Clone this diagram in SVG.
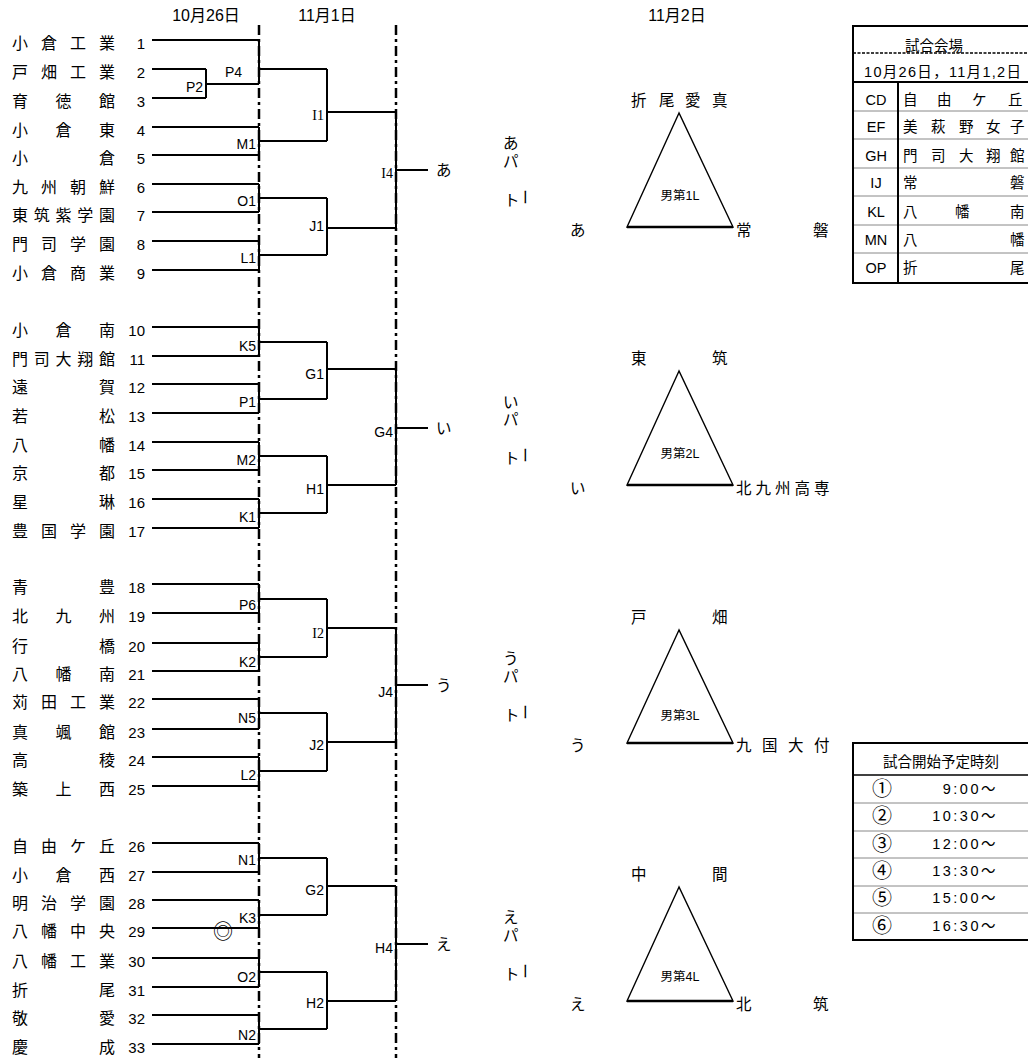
<svg xmlns="http://www.w3.org/2000/svg" width="1028" height="1058" viewBox="0 0 1028 1058">
<style>
text{font-family:"Liberation Sans","Noto Sans CJK JP",sans-serif;fill:#000}
.nm{font-size:16px}
.no{font-size:15px;text-anchor:end}
.lb{font-size:14px;text-anchor:end}
.lbs{font-size:14px;text-anchor:end;font-family:"Liberation Serif","Noto Sans CJK JP",serif}
.dt{font-size:16px;text-anchor:middle}
.kn{font-size:15.5px}
.tri{fill:none;stroke:#000;stroke-width:1.4}
.base{stroke:#000;stroke-width:2.4}
.in{font-size:12.5px;text-anchor:middle}
.br{fill:none;stroke:#000;stroke-width:2}
.dd{stroke:#000;stroke-width:2.5;stroke-dasharray:10 4 3 4}
.tb{font-size:14.5px}
.cn{font-size:20px;font-family:"Noto Sans CJK JP",sans-serif}
.gl{stroke:#888;stroke-width:1}
</style>

<g id="dates">
<text class="dt" x="206" y="21">10月26日</text>
<text class="dt" x="327" y="21">11月1日</text>
<text class="dt" x="677" y="21">11月2日</text>
</g>

<g id="teams">
<g id="team-1"><text class="nm" x="12 41 70 99" y="49">小倉工業</text><text class="no" x="145" y="49">1</text></g>
<g id="team-2"><text class="nm" x="12 41 70 99" y="78">戸畑工業</text><text class="no" x="145" y="78">2</text></g>
<g id="team-3"><text class="nm" x="12 55.5 99" y="107">育徳館</text><text class="no" x="145" y="107">3</text></g>
<g id="team-4"><text class="nm" x="12 55.5 99" y="136">小倉東</text><text class="no" x="145" y="136">4</text></g>
<g id="team-5"><text class="nm" x="12 99" y="164">小倉</text><text class="no" x="145" y="164">5</text></g>
<g id="team-6"><text class="nm" x="12 41 70 99" y="193">九州朝鮮</text><text class="no" x="145" y="193">6</text></g>
<g id="team-7"><text class="nm" x="12 33.75 55.5 77.25 99" y="221">東筑紫学園</text><text class="no" x="145" y="221">7</text></g>
<g id="team-8"><text class="nm" x="12 41 70 99" y="250">門司学園</text><text class="no" x="145" y="250">8</text></g>
<g id="team-9"><text class="nm" x="12 41 70 99" y="279">小倉商業</text><text class="no" x="145" y="279">9</text></g>
<g id="team-10"><text class="nm" x="12 55.5 99" y="336">小倉南</text><text class="no" x="145" y="336">10</text></g>
<g id="team-11"><text class="nm" x="12 33.75 55.5 77.25 99" y="365">門司大翔館</text><text class="no" x="145" y="365">11</text></g>
<g id="team-12"><text class="nm" x="12 99" y="393">遠賀</text><text class="no" x="145" y="393">12</text></g>
<g id="team-13"><text class="nm" x="12 99" y="422">若松</text><text class="no" x="145" y="422">13</text></g>
<g id="team-14"><text class="nm" x="12 99" y="451">八幡</text><text class="no" x="145" y="451">14</text></g>
<g id="team-15"><text class="nm" x="12 99" y="479">京都</text><text class="no" x="145" y="479">15</text></g>
<g id="team-16"><text class="nm" x="12 99" y="508">星琳</text><text class="no" x="145" y="508">16</text></g>
<g id="team-17"><text class="nm" x="12 41 70 99" y="537">豊国学園</text><text class="no" x="145" y="537">17</text></g>
<g id="team-18"><text class="nm" x="12 99" y="593">青豊</text><text class="no" x="145" y="593">18</text></g>
<g id="team-19"><text class="nm" x="12 55.5 99" y="622">北九州</text><text class="no" x="145" y="622">19</text></g>
<g id="team-20"><text class="nm" x="12 99" y="652">行橋</text><text class="no" x="145" y="652">20</text></g>
<g id="team-21"><text class="nm" x="12 55.5 99" y="680">八幡南</text><text class="no" x="145" y="680">21</text></g>
<g id="team-22"><text class="nm" x="12 41 70 99" y="708">苅田工業</text><text class="no" x="145" y="708">22</text></g>
<g id="team-23"><text class="nm" x="12 55.5 99" y="738">真颯館</text><text class="no" x="145" y="738">23</text></g>
<g id="team-24"><text class="nm" x="12 99" y="766">高稜</text><text class="no" x="145" y="766">24</text></g>
<g id="team-25"><text class="nm" x="12 55.5 99" y="795">築上西</text><text class="no" x="145" y="795">25</text></g>
<g id="team-26"><text class="nm" x="12 41 70 99" y="852">自由ケ丘</text><text class="no" x="145" y="852">26</text></g>
<g id="team-27"><text class="nm" x="12 55.5 99" y="881">小倉西</text><text class="no" x="145" y="881">27</text></g>
<g id="team-28"><text class="nm" x="12 41 70 99" y="909">明治学園</text><text class="no" x="145" y="909">28</text></g>
<g id="team-29"><text class="nm" x="12 41 70 99" y="937">八幡中央</text><text class="no" x="145" y="937">29</text></g>
<g id="team-30"><text class="nm" x="12 41 70 99" y="967">八幡工業</text><text class="no" x="145" y="967">30</text></g>
<g id="team-31"><text class="nm" x="12 99" y="996">折尾</text><text class="no" x="145" y="996">31</text></g>
<g id="team-32"><text class="nm" x="12 99" y="1024">敬愛</text><text class="no" x="145" y="1024">32</text></g>
<g id="team-33"><text class="nm" x="12 99" y="1053">慶成</text><text class="no" x="145" y="1053">33</text></g>
</g>

<g id="connectors">
<line class="dd" x1="259" y1="25" x2="259" y2="1058"/>
<line class="dd" x1="396" y1="25" x2="396" y2="1058"/>
<path class="br" d="M152 40H259 M152 69H206 M152 98H206 M206 69V98 M206 84H259 M259 40V84 M259 69H327
M152 127H259 M152 155H259 M259 127V155 M259 141H327 M327 69V141 M327 112H396
M152 184H259 M152 212H259 M259 184V212 M259 198H327
M152 241H259 M152 270H259 M259 241V270 M259 255H327 M327 198V255 M327 228H396
M396 112V228 M396 170H428"/>
<path class="br" d="M152 327H259 M152 356H259 M259 327V356 M259 342H327
M152 384H259 M152 413H259 M259 384V413 M259 399H327 M327 342V399 M327 369H396
M152 442H259 M152 470H259 M259 442V470 M259 456H327
M152 499H259 M152 528H259 M259 499V528 M259 513H327 M327 456V513 M327 485H396
M396 369V485 M396 428H428"/>
<path class="br" d="M152 584H259 M152 613H259 M259 584V613 M259 599H327
M152 643H259 M152 671H259 M259 643V671 M259 657H327 M327 599V657 M327 628H396
M152 699H259 M152 729H259 M259 699V729 M259 713H327
M152 757H259 M152 786H259 M259 757V786 M259 771H327 M327 713V771 M327 742H396
M396 628V742 M396 685H428"/>
<path class="br" d="M152 843H259 M152 872H259 M259 843V872 M259 858H327
M152 900H259 M152 928H259 M259 900V928 M259 915H327 M327 858V915 M327 886H396
M152 958H259 M152 987H259 M259 958V987 M259 972H327
M152 1015H259 M152 1044H259 M259 1015V1044 M259 1029H327 M327 972V1029 M327 1001H396
M396 886V1001 M396 944H428"/>
</g>

<g id="match-labels">
<text class="lb" x="203" y="92">P2</text>
<text class="lb" x="242" y="77">P4</text>
<text class="lb" x="256" y="149">M1</text>
<text class="lb" x="256" y="206">O1</text>
<text class="lb" x="256" y="263">L1</text>
<text class="lbs" x="324" y="120">I1</text>
<text class="lb" x="324" y="231">J1</text>
<text class="lbs" x="393" y="178">I4</text>
<text class="lb" x="256" y="351">K5</text>
<text class="lb" x="256" y="407">P1</text>
<text class="lb" x="256" y="465">M2</text>
<text class="lb" x="256" y="522">K1</text>
<text class="lb" x="324" y="379">G1</text>
<text class="lb" x="324" y="494">H1</text>
<text class="lb" x="393" y="437">G4</text>
<text class="lb" x="256" y="610">P6</text>
<text class="lb" x="256" y="667">K2</text>
<text class="lb" x="256" y="723">N5</text>
<text class="lb" x="256" y="780">L2</text>
<text class="lbs" x="324" y="638">I2</text>
<text class="lb" x="324" y="750">J2</text>
<text class="lb" x="393" y="697">J4</text>
<text class="lb" x="256" y="865">N1</text>
<text class="lb" x="256" y="923">K3</text>
<text class="lb" x="256" y="982">O2</text>
<text class="lb" x="256" y="1040">N2</text>
<text class="lb" x="324" y="895">G2</text>
<text class="lb" x="324" y="1008">H2</text>
<text class="lb" x="393" y="953">H4</text>
<text class="cn" x="223" y="939" text-anchor="middle">◎</text>
<text class="kn" x="436" y="176">あ</text>
<text class="kn" x="436" y="434">い</text>
<text class="kn" x="436" y="691">う</text>
<text class="kn" x="436" y="950">え</text>
</g>

<g id="pool-a">
<text class="kn" x="503" y="149">あ</text>
<text class="kn" x="503" y="167">パ</text>
<text class="kn" x="504" y="206">ト</text>
<text class="kn" text-anchor="middle" transform="translate(524 197) rotate(90)" y="5">ー</text>
<text class="kn" x="631 659 685 712" y="106">折尾愛真</text>
<polygon class="tri" points="679,113 627,227 733,227"/>
<line class="base" x1="627" y1="227" x2="733" y2="227"/>
<text class="in" x="680" y="200">男第1L</text>
<text class="kn" x="570" y="236">あ</text>
<text class="kn" x="736 813" y="236">常磐</text>
</g>

<g id="pool-i">
<text class="kn" x="503" y="408">い</text>
<text class="kn" x="503" y="425">パ</text>
<text class="kn" x="504" y="464">ト</text>
<text class="kn" text-anchor="middle" transform="translate(524 455) rotate(90)" y="5">ー</text>
<text class="kn" x="631 712" y="364">東筑</text>
<polygon class="tri" points="679,371 627,485 733,485"/>
<line class="base" x1="627" y1="485" x2="733" y2="485"/>
<text class="in" x="680" y="458">男第2L</text>
<text class="kn" x="570" y="494">い</text>
<text class="kn" x="736 755.5 775 794.5 814" y="494">北九州高専</text>
</g>

<g id="pool-u">
<text class="kn" x="503" y="664">う</text>
<text class="kn" x="503" y="682">パ</text>
<text class="kn" x="504" y="721">ト</text>
<text class="kn" text-anchor="middle" transform="translate(524 712) rotate(90)" y="5">ー</text>
<text class="kn" x="631 712" y="623">戸畑</text>
<polygon class="tri" points="679,630 627,743 733,743"/>
<line class="base" x1="627" y1="743" x2="733" y2="743"/>
<text class="in" x="680" y="720">男第3L</text>
<text class="kn" x="570" y="751">う</text>
<text class="kn" x="736 762 788 814" y="751">九国大付</text>
</g>

<g id="pool-e">
<text class="kn" x="503" y="923">え</text>
<text class="kn" x="503" y="941">パ</text>
<text class="kn" x="504" y="980">ト</text>
<text class="kn" text-anchor="middle" transform="translate(524 971) rotate(90)" y="5">ー</text>
<text class="kn" x="631 712" y="880">中間</text>
<polygon class="tri" points="679,887 627,1001 733,1001"/>
<line class="base" x1="627" y1="1001" x2="733" y2="1001"/>
<text class="in" x="680" y="981">男第4L</text>
<text class="kn" x="570" y="1010">え</text>
<text class="kn" x="736 813" y="1010">北筑</text>
</g>

<g id="venue-table">
<line class="gl" x1="853" y1="111" x2="1028" y2="111"/>
<line class="gl" x1="853" y1="139" x2="1028" y2="139"/>
<line class="gl" x1="853" y1="168" x2="1028" y2="168"/>
<line class="gl" x1="853" y1="196" x2="1028" y2="196"/>
<line class="gl" x1="853" y1="225" x2="1028" y2="225"/>
<line class="gl" x1="853" y1="253" x2="1028" y2="253"/>
<rect x="853" y="26" width="190" height="257" fill="none" stroke="#000" stroke-width="2"/>
<line x1="853" y1="53" x2="1028" y2="53" stroke="#000" stroke-width="1.5" stroke-dasharray="3 1.5"/>
<line x1="853" y1="82" x2="1028" y2="82" stroke="#000" stroke-width="2"/>
<line x1="898" y1="82" x2="898" y2="283" stroke="#000" stroke-width="2"/>
<text class="tb" x="934" y="51" text-anchor="middle">試合会場</text>
<text class="tb" x="864" y="77" textLength="157" lengthAdjust="spacing">10月26日，11月1,2日</text>
<g text-anchor="middle">
<text class="tb" x="876" y="105">CD</text>
<text class="tb" x="876" y="132">EF</text>
<text class="tb" x="876" y="161">GH</text>
<text class="tb" x="876" y="188">IJ</text>
<text class="tb" x="876" y="217">KL</text>
<text class="tb" x="876" y="245">MN</text>
<text class="tb" x="876" y="273">OP</text>
</g>
<text class="tb" x="903 937 972 1008" y="105">自由ケ丘</text>
<text class="tb" x="903 931 959 986 1010" y="132">美萩野女子</text>
<text class="tb" x="903 931 959 986 1010" y="161">門司大翔館</text>
<text class="tb" x="903 1010" y="188">常磐</text>
<text class="tb" x="903 955 1010" y="217">八幡南</text>
<text class="tb" x="903 1010" y="245">八幡</text>
<text class="tb" x="903 1010" y="273">折尾</text>
</g>

<g id="time-table">
<line class="gl" x1="853" y1="803" x2="1028" y2="803"/>
<line class="gl" x1="853" y1="831" x2="1028" y2="831"/>
<line class="gl" x1="853" y1="858" x2="1028" y2="858"/>
<line class="gl" x1="853" y1="886" x2="1028" y2="886"/>
<line class="gl" x1="853" y1="913" x2="1028" y2="913"/>
<rect x="853" y="743" width="190" height="197" fill="none" stroke="#000" stroke-width="2"/>
<line x1="853" y1="775" x2="1028" y2="775" stroke="#000" stroke-width="1.3"/>
<text class="tb" x="941" y="767" text-anchor="middle">試合開始予定時刻</text>
<g text-anchor="middle">
<text class="cn" x="882" y="796">①</text>
<text class="cn" x="882" y="823">②</text>
<text class="cn" x="882" y="851">③</text>
<text class="cn" x="882" y="878">④</text>
<text class="cn" x="882" y="905">⑤</text>
<text class="cn" x="882" y="933">⑥</text>
</g>
<g text-anchor="end" letter-spacing="2.5">
<text class="tb" x="998" y="794">9:00～</text>
<text class="tb" x="998" y="821">10:30～</text>
<text class="tb" x="998" y="849">12:00～</text>
<text class="tb" x="998" y="876">13:30～</text>
<text class="tb" x="998" y="903">15:00～</text>
<text class="tb" x="998" y="931">16:30～</text>
</g>
</g>
</svg>
